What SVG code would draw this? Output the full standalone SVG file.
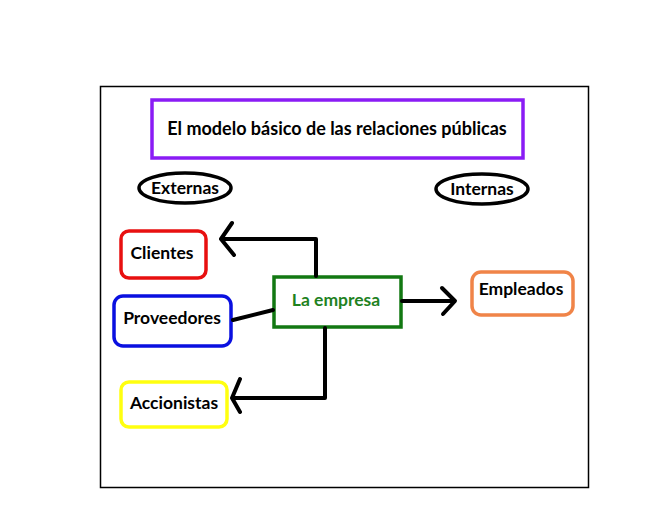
<svg xmlns="http://www.w3.org/2000/svg" width="669" height="518" viewBox="0 0 669 518">
<style>
text{font-family:Lato,"Open Sans","Liberation Sans",sans-serif;font-weight:bold;font-size:17.5px;text-anchor:middle;fill:#000}
.box{fill:#fff;stroke-width:3.5}
.ell{fill:#fff;stroke:#000;stroke-width:3.5}
.con{fill:none;stroke:#000;stroke-width:4;stroke-linecap:round;stroke-linejoin:round}
</style>
<rect x="0" y="0" width="669" height="518" fill="#fff"/>
<rect x="100.5" y="86.5" width="488" height="401" fill="#fff" stroke="#000" stroke-width="1.5"/>
<g id="title"><rect class="box" x="152" y="100" width="371" height="58" stroke="#8a1cf5" stroke-width="4"/><text x="337" y="135" style="font-size:18px">El modelo básico de las relaciones públicas</text></g>
<g id="externas"><ellipse class="ell" cx="185" cy="188" rx="46" ry="15"/><text x="185" y="194">Externas</text></g>
<g id="internas"><ellipse class="ell" cx="482" cy="189" rx="46" ry="15"/><text x="482" y="195">Internas</text></g>
<g id="clientes"><rect class="box" x="121" y="231" width="85" height="47" rx="8" stroke="#e81010"/><text x="162" y="259">Clientes</text></g>
<g id="proveedores"><rect class="box" x="114" y="296" width="117" height="50" rx="9" stroke="#0a10e0"/><text x="172" y="324">Proveedores</text></g>
<g id="accionistas"><rect class="box" x="121" y="382" width="106" height="45" rx="8" stroke="#ffff10"/><text x="174" y="409">Accionistas</text></g>
<g id="empresa"><rect class="box" x="274" y="277" width="127" height="50" stroke="#127812"/><text x="336" y="306" style="fill:#1f821f">La empresa</text></g>
<g id="empleados"><rect class="box" x="472" y="272" width="101" height="43" rx="9" stroke="#f08448"/><text x="521" y="295">Empleados</text></g>
<g id="connectors">
<path class="con" d="M316 276 V239 H222 M232 223 L221 239 L234 255"/>
<path class="con" d="M233 320 L273 310"/>
<path class="con" d="M325 328 V398 H233 M240 379 L232 398 L240 412"/>
<path class="con" d="M402 301 H454 M442 288 L455 301 L443 314"/>
</g>
</svg>
